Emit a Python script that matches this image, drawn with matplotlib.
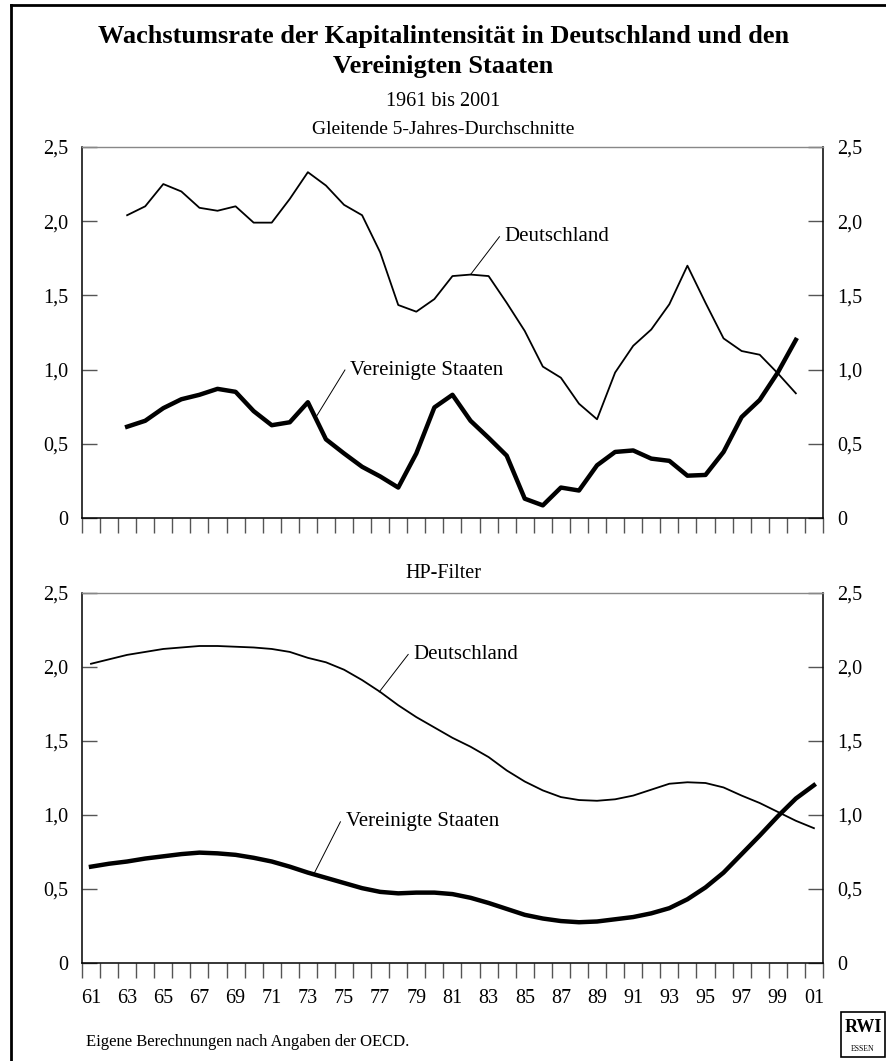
import sys

import numpy as np
import matplotlib
matplotlib.use("Agg")
import matplotlib.pyplot as plt
from matplotlib.lines import Line2D
from matplotlib.patches import Rectangle

# 5-year moving averages, 1963-2000
years_ma = list(range(1963, 2001))
de_ma = [2.04, 2.10, 2.25, 2.20, 2.09, 2.07, 2.10, 1.99, 1.99, 2.15,
         2.33, 2.24, 2.11, 2.04, 1.79, 1.435, 1.39, 1.475, 1.63, 1.64,
         1.63, 1.45, 1.26, 1.02, 0.945, 0.77, 0.665, 0.98, 1.16, 1.27,
         1.44, 1.70, 1.45, 1.21, 1.125, 1.10, 0.975, 0.84]
us_ma = [0.615, 0.655, 0.74, 0.80, 0.83, 0.87, 0.85, 0.72, 0.625, 0.645,
         0.78, 0.53, 0.435, 0.345, 0.28, 0.205, 0.435, 0.745, 0.83, 0.655,
         0.54, 0.42, 0.13, 0.085, 0.205, 0.185, 0.355, 0.445, 0.455, 0.40,
         0.385, 0.285, 0.29, 0.445, 0.68, 0.795, 0.98, 1.20]

# HP filter trend, 1961-2001
years_hp = list(range(1961, 2002))
de_hp = [2.02, 2.05, 2.08, 2.10, 2.12, 2.13, 2.14, 2.14, 2.135, 2.13,
         2.12, 2.10, 2.06, 2.03, 1.98, 1.91, 1.83, 1.74, 1.66, 1.59,
         1.52, 1.46, 1.39, 1.30, 1.225, 1.165, 1.12, 1.10, 1.095, 1.105,
         1.13, 1.17, 1.21, 1.22, 1.215, 1.185, 1.13, 1.08, 1.02, 0.96, 0.91]
us_hp = [0.65, 0.67, 0.685, 0.705, 0.72, 0.735, 0.745, 0.74, 0.73, 0.71,
         0.685, 0.65, 0.61, 0.575, 0.54, 0.505, 0.48, 0.47, 0.475, 0.475,
         0.465, 0.44, 0.405, 0.365, 0.325, 0.30, 0.283, 0.275, 0.28, 0.295,
         0.31, 0.335, 0.37, 0.43, 0.51, 0.61, 0.735, 0.86, 0.99, 1.11, 1.20]

y_ticks = [0, 0.5, 1.0, 1.5, 2.0, 2.5]
y_labels = ['0', '0,5', '1,0', '1,5', '2,0', '2,5']
x_label_years = list(range(1961, 2002, 2))
x_labels = ['%02d' % (y % 100) for y in x_label_years]

plt.rcParams['font.family'] = ['Liberation Serif', 'DejaVu Serif']


def style_axes(ax, show_xlabels):
    """category-style year axis, labels on both sides."""
    ax.set_xlim(1960.5, 2001.5)
    ax.set_ylim(0, 2.5)
    ax.set_xticks(np.arange(1960.5, 2002, 1.0))
    ax.set_xticklabels([])
    ax.tick_params(axis='x', which='major', direction='out', length=11,
                   width=1.0, color='#555555')
    if show_xlabels:
        ax.set_xticks(x_label_years, x_labels, minor=True)
        ax.tick_params(axis='x', which='minor', length=0, pad=19,
                       labelsize=14.5)
    ax.set_yticks(y_ticks, y_labels)
    ax.tick_params(axis='y', direction='in', length=11, width=1.0,
                   color='#555555', left=True, right=True,
                   labelleft=True, labelright=True, labelsize=14.5, pad=10)
    ax.spines['top'].set_color('#888888')
    ax.spines['top'].set_linewidth(1.0)
    for s in ('left', 'right', 'bottom'):
        ax.spines[s].set_linewidth(1.1)


def label(ax, text, xy, xytext):
    """series name with a thin leader line."""
    ax.plot([xytext[0], xy[0]], [xytext[1], xy[1]], color='black', lw=0.7)
    ax.text(xytext[0] + 0.3, xytext[1], text, ha='left', va='center',
            fontsize=15)


def main():
    fig = plt.figure(figsize=(8.87, 10.61), dpi=100)

    ax1 = fig.add_axes([0.0924, 0.5118, 0.8354, 0.3497])
    ax2 = fig.add_axes([0.0924, 0.0924, 0.8354, 0.3490])

    ax1.plot(years_ma, de_ma, color='black', lw=1.3)
    ax1.plot(years_ma, us_ma, color='black', lw=3.2)
    style_axes(ax1, False)
    label(ax1, 'Deutschland', (1982, de_ma[years_ma.index(1982)]),
          (1983.6, 1.895))
    label(ax1, 'Vereinigte Staaten', (1973.5, 0.69), (1975.05, 0.997))

    ax2.plot(years_hp, de_hp, color='black', lw=1.3)
    ax2.plot(years_hp, us_hp, color='black', lw=3.2)
    style_axes(ax2, True)
    label(ax2, 'Deutschland', (1976.95, 1.83), (1978.55, 2.083))
    label(ax2, 'Vereinigte Staaten', (1973.35, 0.605), (1974.8, 0.953))

    # texts
    fig.text(0.5, 1 - 37 / 1061, 'Wachstumsrate der Kapitalintensität in Deutschland und den',
             ha='center', va='center', fontsize=19, fontweight='bold')
    fig.text(0.5, 1 - 67 / 1061, 'Vereinigten Staaten',
             ha='center', va='center', fontsize=19, fontweight='bold')
    fig.text(0.5, 1 - 102 / 1061, '1961 bis 2001', ha='center', va='center',
             fontsize=14.5)
    fig.text(0.5, 1 - 130 / 1061, 'Gleitende 5-Jahres-Durchschnitte',
             ha='center', va='center', fontsize=14)
    fig.text(0.5, 1 - 573 / 1061, 'HP-Filter', ha='center', va='center',
             fontsize=14.5)
    fig.text(86 / 887, 1 - 1042 / 1061, 'Eigene Berechnungen nach Angaben der OECD.',
             ha='left', va='center', fontsize=12)

    # RWI logo
    fig.add_artist(Rectangle((841 / 887, 1 - 1057 / 1061), 44 / 887, 45 / 1061,
                             transform=fig.transFigure, fill=False,
                             edgecolor='black', lw=1.2))
    fig.text(863 / 887, 1 - 1028 / 1061, 'RWI', ha='center', va='center',
             fontsize=13, fontweight='bold')
    fig.text(863 / 887, 1 - 1049 / 1061, 'ESSEN', ha='center', va='center',
             fontsize=5.5)

    # frame lines on left and top
    fig.add_artist(Line2D([11 / 887, 11 / 887], [0, 1 - 5 / 1061],
                          transform=fig.transFigure, color='black', lw=2))
    fig.add_artist(Line2D([11 / 887, 1], [1 - 5 / 1061, 1 - 5 / 1061],
                          transform=fig.transFigure, color='black', lw=2))

    fig.savefig('out.png', dpi=100)


if __name__ == '__main__':
    sys.exit(main())
